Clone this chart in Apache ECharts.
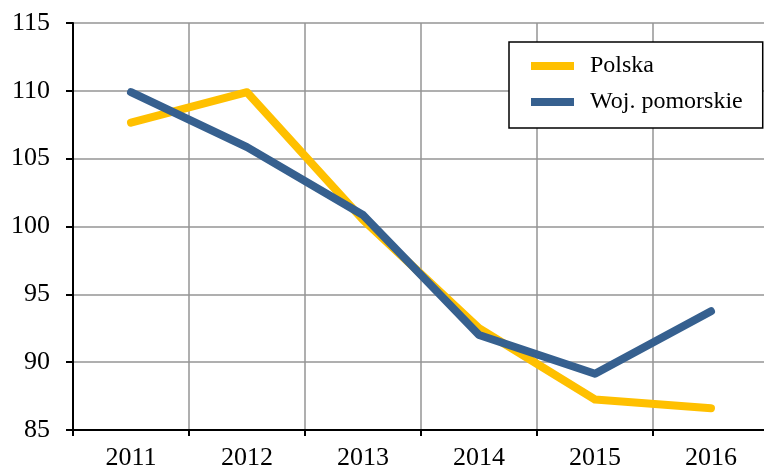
<!DOCTYPE html>
<html>
<head>
<meta charset="utf-8">
<script src="https://cdn.jsdelivr.net/npm/echarts@6/dist/echarts.min.js"></script>
<style>
  html, body { margin: 0; padding: 0; background: #fff; }
  #chart { width: 764px; height: 473px; }
</style>
</head>
<body>
<div id="chart"></div>
<script>
// lata
const years = ['2011', '2012', '2013', '2014', '2015', '2016']
// wartości
const polska = [107.65, 109.9, 100.5, 92.5, 87.25, 86.6]
const pomorskie = [109.9, 105.85, 100.85, 92.0, 89.15, 93.75]

const font = 'Liberation Serif, Times New Roman, serif'

const chart = echarts.init(document.getElementById('chart'))
chart.setOption({
  backgroundColor: '#ffffff',
  animation: false,
  textStyle: { fontFamily: font },
  grid: {
    left: 73,
    width: 696,
    top: 23,
    height: 407,
    outerBoundsMode: 'none'
  },
  legend: {
    left: 509,
    top: 42,
    orient: 'vertical',
    backgroundColor: '#ffffff',
    borderColor: '#000000',
    borderWidth: 1.5,
    borderRadius: 0,
    padding: [12, 20, 14, 22],
    itemGap: 12,
    itemWidth: 43,
    itemHeight: 8,
    icon: 'rect',
    textStyle: {
      fontFamily: font,
      fontSize: 24,
      color: '#000000',
      padding: [0, 0, 0, 11]
    },
    data: ['Polska', 'Woj. pomorskie']
  },
  xAxis: {
    type: 'category',
    data: years,
    boundaryGap: true,
    axisLine: { lineStyle: { color: '#000000', width: 2 } },
    axisTick: { show: true, length: 6, lineStyle: { color: '#000000', width: 2 } },
    axisLabel: { fontFamily: font, fontSize: 26, color: '#000000', margin: 15 },
    splitLine: { show: true, lineStyle: { color: '#959595', width: 1.5 } }
  },
  yAxis: {
    type: 'value',
    min: 85,
    max: 115,
    interval: 5,
    axisLine: { show: true, lineStyle: { color: '#000000', width: 2 } },
    axisTick: { show: true, length: 7, lineStyle: { color: '#000000', width: 2 } },
    axisLabel: { fontFamily: font, fontSize: 26, color: '#000000', margin: 23 },
    splitLine: { show: true, lineStyle: { color: '#959595', width: 1.5 } }
  },
  series: [
    {
      name: 'Polska',
      type: 'line',
      data: polska,
      symbol: 'none',
      itemStyle: { color: '#FFC000' },
      lineStyle: { color: '#FFC000', width: 8, cap: 'round', join: 'round' },
      z: 2
    },
    {
      name: 'Woj. pomorskie',
      type: 'line',
      data: pomorskie,
      symbol: 'none',
      itemStyle: { color: '#36608F' },
      lineStyle: { color: '#36608F', width: 8, cap: 'round', join: 'round' },
      z: 3
    }
  ]
})
</script>
</body>
</html>
